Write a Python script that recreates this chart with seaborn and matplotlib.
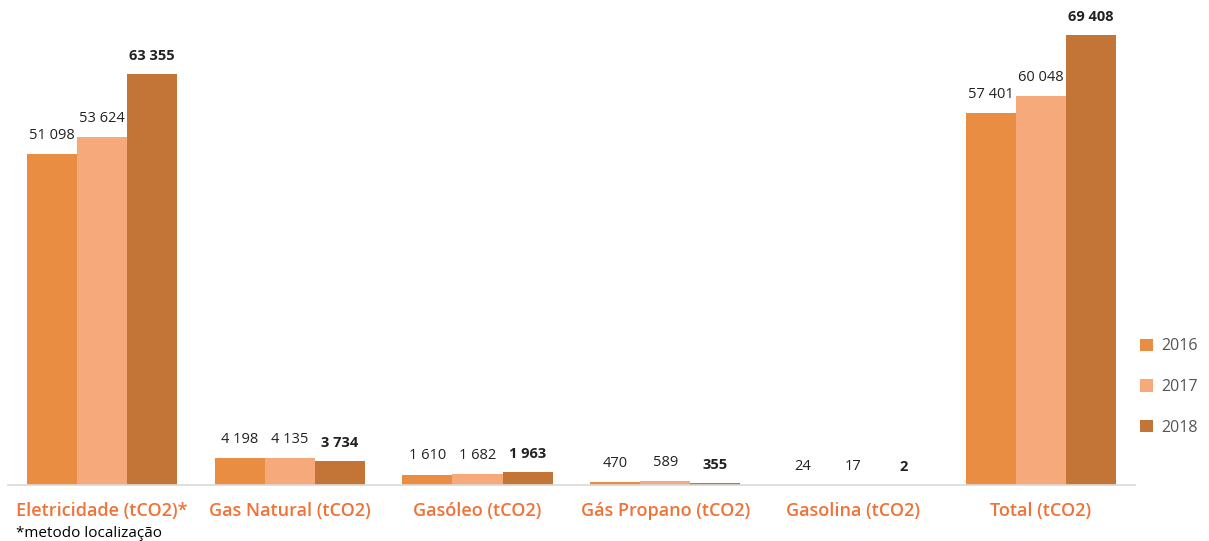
import seaborn as sns
import pandas as pd
import numpy as np
from matplotlib import pyplot as plt

categories = ["Eletricidade (tCO2)*", "Gas Natural (tCO2)", "Gasóleo (tCO2)",
              "Gás Propano (tCO2)", "Gasolina (tCO2)", "Total (tCO2)"]
years = ["2016", "2017", "2018"]
v2016 = [51098, 4198, 1610, 470, 24, 57401]
v2017 = [53624, 4135, 1682, 589, 17, 60048]
v2018 = [63355, 3734, 1963, 355, 2, 69408]

colors = ["#E88D42", "#F6A97A", "#C27536"]

df = pd.DataFrame({
    "cat": categories * 3,
    "year": [y for y in years for _ in categories],
    "val": v2016 + v2017 + v2018,
})

sns.set_style("white")
plt.rcParams['font.family'] = ['Open Sans', 'DejaVu Sans']

fig = plt.figure(figsize=(12.09, 5.41), dpi=100)
ax = fig.add_axes([0.0066, 0.1035, 0.932, 0.8965])
sns.barplot(data=df, x="cat", y="val", hue="year", palette=colors,
            width=0.8, saturation=1, linewidth=0, ax=ax, legend=True)

ax.set_ylim(0, 69408 * 485 / 450)
for spine in ["top", "right", "left"]:
    ax.spines[spine].set_visible(False)
ax.spines["bottom"].set_color("#D9D9D9")
ax.spines["bottom"].set_linewidth(1.2)
ax.set_yticks([])
ax.set_xlabel("")
ax.set_ylabel("")
ax.tick_params(axis="x", length=0, pad=12)
for t in ax.get_xticklabels():
    t.set_color("#F07236")
    t.set_fontsize(13)
    t.set_fontweight("semibold")

def fmt(v):
    return f"{v:,}".replace(",", " ")

for i, cont in enumerate(ax.containers):
    labels = [fmt(int(b.get_height())) for b in cont]
    ax.bar_label(cont, labels=labels, padding=8, fontsize=10.5,
                 color="#222222", fontweight="bold" if i == 2 else "normal")

leg = ax.legend(loc="upper left", bbox_to_anchor=(0.992, 0.332), frameon=False,
                fontsize=11.5, handlelength=0.8, handleheight=0.8,
                handletextpad=0.5, labelspacing=1.55)
for t in leg.get_texts():
    t.set_color("#555555")

fig.text(0.013, 0.008, "*metodo localização", fontsize=11, color="#000000")

fig.savefig("out.png", dpi=100)
